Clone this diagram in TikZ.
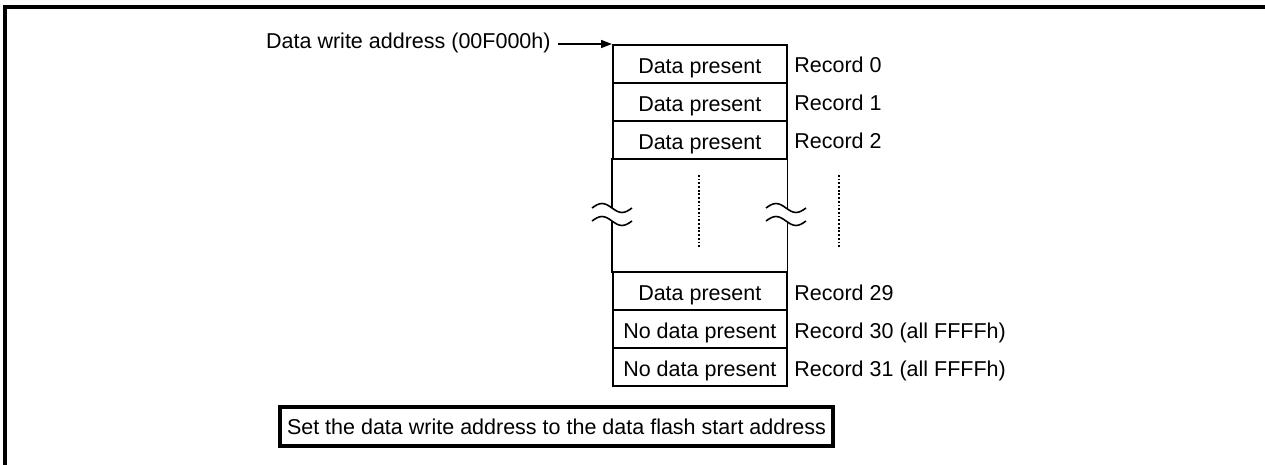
\documentclass[tikz,border=0pt]{standalone}
\usepackage{fontspec}
\setmainfont{Liberation Sans}
\usetikzlibrary{arrows.meta}
\begin{document}
\begin{tikzpicture}[x=0.5pt,y=-0.5pt,
  every node/.style={font=\fontsize{10.75}{13}\selectfont},
  lbl/.style={text height=10pt,text depth=0pt},
  cell/.style={draw,lbl,line width=0.8pt,minimum width=87pt,minimum height=19pt,inner sep=0pt,anchor=north west},
  rec/.style={lbl,anchor=west,inner sep=0pt},
  frame/.style={line width=1.75pt},
  dots/.style={line width=0.9pt,dash pattern=on 0.9pt off 0.95pt},
  thin/.style={line width=0.8pt},
  brk/.pic={
    \fill[white] (-20,-6.5) sin (-10,-11) cos (0,-6.5) sin (10,-2) cos (20,-6.5) -- (20,6.5) sin (10,11) cos (0,6.5) sin (-10,2) cos (-20,6.5) -- cycle;
    \draw[thin] (-20,-6.5) sin (-10,-11) cos (0,-6.5) sin (10,-2) cos (20,-6.5);
    \draw[thin] (-20,6.5) sin (-10,2) cos (0,6.5) sin (10,11) cos (20,6.5);
  }
]
\useasboundingbox (0,0) rectangle (1265,465);
\draw[frame] (1265,7) -- (5,7) -- (5,465);

\node[cell] (r0) at (612,44) {Data present};
\node[cell] (r1) at (612,82) {Data present};
\node[cell] (r2) at (612,120) {Data present};
\node[cell,draw=none,minimum height=56.5pt] (gap) at (612,158) {};
\node[cell] (r29) at (612,271) {Data present};
\node[cell] (r30) at (612,309) {No data present};
\node[cell] (r31) at (612,347) {No data present};

\draw[thin] (gap.north west) -- (gap.south west);
\draw[thin] (gap.north east) -- (gap.south east);
\pic at (612,214.5) {brk};
\pic at (786,214.5) {brk};

\draw[dots] (699,175) -- (699,248);
\draw[dots] (839,175) -- (839,248);

\node[rec] (l0) at (794,63) {Record 0};
\node[rec] (l1) at (794,101) {Record 1};
\node[rec] (l2) at (794,139) {Record 2};
\node[rec] (l29) at (794,290) {Record 29};
\node[rec] (l30) at (794,328) {Record 30 (all FFFFh)};
\node[rec] (l31) at (794,366) {Record 31 (all FFFFh)};

\node[lbl,anchor=east,inner sep=0pt] (addr) at (551,39) {Data write address (00F000h)};
\draw[thin,-{Triangle[length=5.5pt,width=4pt]}] ([xshift=3.5pt,yshift=-2.5pt]addr.east) -- (r0.north west);

\node[draw,line width=1.6pt,minimum width=276.5pt,minimum height=19.5pt,inner sep=0pt] (note) at (556.5,426.5) {Set the data write address to the data flash start address};
\end{tikzpicture}
\end{document}
